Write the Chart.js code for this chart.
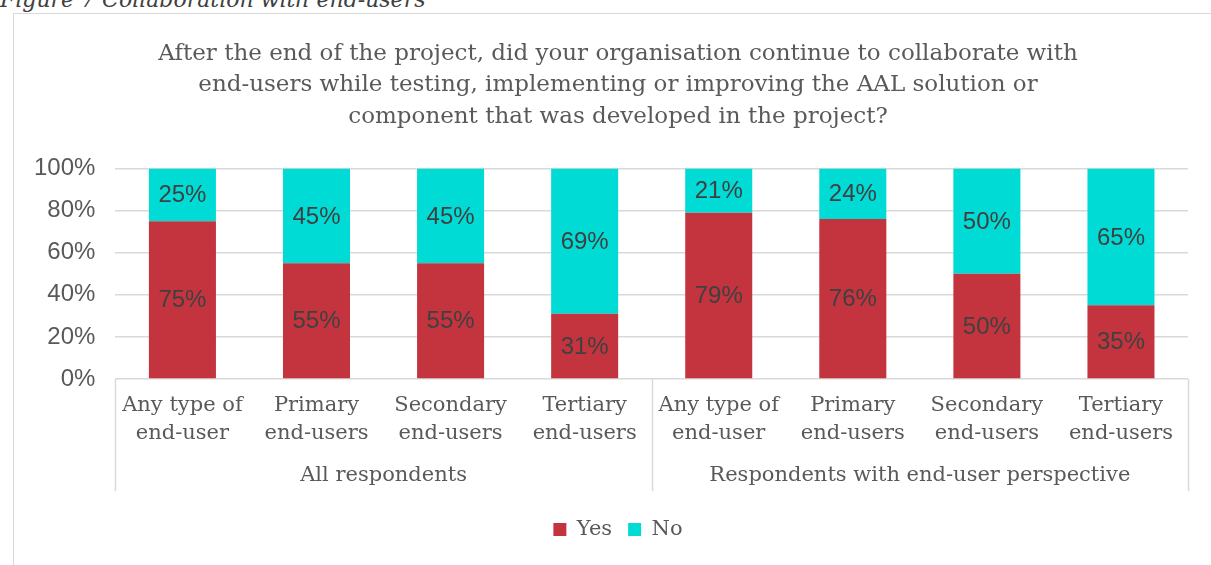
<!DOCTYPE html>
<html>
<head>
<meta charset="utf-8">
<script src="https://cdn.jsdelivr.net/npm/chart.js@4"></script>
<style>
  html, body { margin: 0; padding: 0; background: #fff; overflow: hidden; }
  body { width: 1211px; height: 565px; position: relative; }
  #caption {
    position: absolute; left: 0; top: -11px;
    font: italic 22px/22px "DejaVu Serif", serif; color: #404040;
    white-space: nowrap;
  }
  #frame {
    position: absolute; left: 13px; top: 13px; width: 1210px; height: 560px;
    border-top: 1px solid #d9d9d9; border-left: 1px solid #d9d9d9;
  }
  #wrap { position: absolute; left: 0; top: 0; width: 1208px; height: 551px; }
</style>
</head>
<body>
<div id="caption">Figure 7 Collaboration with end-users</div>
<div id="frame">
  <div id="wrap"><canvas id="collabChart"></canvas></div>
</div>
<script>
// Survey answers, share of respondents (%)
const categories = [
  ["Any type of", "end-user"], ["Primary", "end-users"], ["Secondary", "end-users"], ["Tertiary", "end-users"],
  ["Any type of", "end-user"], ["Primary", "end-users"], ["Secondary", "end-users"], ["Tertiary", "end-users"]
];
const groups = ["All respondents", "Respondents with end-user perspective"];
const yesValues = [75, 55, 55, 31, 79, 76, 50, 35];
const noValues = [25, 45, 45, 69, 21, 24, 50, 65];
const yTicks = [0, 20, 40, 60, 80, 100];

const SERIF = "'DejaVu Serif', serif";
const SANS = "'Liberation Sans', Arial, sans-serif";
const GRID = "#d9d9d9";
const TEXT = "#595959";
const GAP_BELOW_GROUPS = 12; // blank space between group labels and legend
const RIGHT_MARGIN = 34;     // empty strip right of the plot

// percentage labels centred in every bar segment
const segmentLabels = {
  id: "segmentLabels",
  afterDatasetsDraw(chart) {
    const ctx = chart.ctx;
    ctx.save();
    ctx.font = "24px " + SANS;
    ctx.fillStyle = "#404040";
    ctx.textAlign = "center";
    ctx.textBaseline = "middle";
    chart.data.datasets.forEach((ds, i) => {
      chart.getDatasetMeta(i).data.forEach((bar, j) => {
        const mid = (bar.y + bar.base) / 2;
        ctx.fillText(ds.data[j] + "%", bar.x, mid + 1);
      });
    });
    ctx.restore();
  }
};

// vertical separators framing the two respondent groups
const groupLines = {
  id: "groupLines",
  afterDraw(chart) {
    const x = chart.scales.x, x2 = chart.scales.x2;
    const half = categories.length / 2;
    const mid = (x.getPixelForValue(half - 1) + x.getPixelForValue(half)) / 2;
    const ctx = chart.ctx;
    ctx.save();
    ctx.strokeStyle = GRID;
    ctx.lineWidth = 1.5;
    [x.left, mid, x.right].forEach(px => {
      ctx.beginPath();
      ctx.moveTo(Math.round(px) + 0.5, x.top);
      ctx.lineTo(Math.round(px) + 0.5, x2.bottom - GAP_BELOW_GROUPS);
      ctx.stroke();
    });
    ctx.restore();
  }
};

new Chart(document.getElementById("collabChart"), {
  type: "bar",
  data: {
    labels: categories,
    datasets: [
      { label: "Yes", data: yesValues, backgroundColor: "#c3343f", categoryPercentage: 1, barPercentage: 0.5 },
      { label: "No", data: noValues, backgroundColor: "#00dbd5", categoryPercentage: 1, barPercentage: 0.5 }
    ]
  },
  options: {
    responsive: true,
    maintainAspectRatio: false,
    animation: false,
    layout: { padding: { left: 0, right: 0, top: 0, bottom: 15 } },
    plugins: {
      title: {
        display: true,
        text: [
          "After the end of the project, did your organisation continue to collaborate with",
          "end-users while testing, implementing or improving the AAL solution or",
          "component that was developed in the project?"
        ],
        color: TEXT,
        font: { family: SERIF, size: 23, weight: "normal", lineHeight: 1.37 },
        padding: { top: 24, bottom: 36 }
      },
      legend: {
        position: "bottom",
        labels: {
          boxWidth: 13, boxHeight: 13, padding: 16,
          color: TEXT,
          font: { family: SERIF, size: 21 }
        }
      },
      tooltip: { enabled: false }
    },
    scales: {
      x: {
        stacked: true,
        grid: { display: false, drawTicks: false },
        border: { display: false },
        ticks: {
          color: TEXT, font: { family: SERIF, size: 21, lineHeight: 1.333 },
          maxRotation: 0, autoSkip: false, padding: 13
        }
      },
      x2: {
        type: "category",
        labels: groups,
        position: "bottom",
        offset: true,
        grid: { display: false, drawTicks: false },
        border: { display: false },
        ticks: { color: TEXT, font: { family: SERIF, size: 21, lineHeight: 1.333 }, maxRotation: 0, padding: 1 },
        afterFit(scale) { scale.height += GAP_BELOW_GROUPS; }
      },
      y: {
        stacked: true,
        min: yTicks[0],
        max: yTicks[yTicks.length - 1],
        afterBuildTicks(scale) { scale.ticks = yTicks.map(v => ({ value: v })); },
        grid: { color: GRID, lineWidth: 1.5, drawTicks: false },
        border: { display: false },
        ticks: {
          color: TEXT, font: { family: SANS, size: 24 },
          padding: 20,
          callback: v => v + "%"
        }
      },
      // blank axis that only keeps a margin on the right of the plot
      yPad: {
        position: "right",
        grid: { display: false, drawTicks: false },
        border: { display: false },
        ticks: { display: false },
        afterFit(scale) { scale.width = RIGHT_MARGIN; }
      }
    }
  },
  plugins: [segmentLabels, groupLines]
});
</script>
</body>
</html>
